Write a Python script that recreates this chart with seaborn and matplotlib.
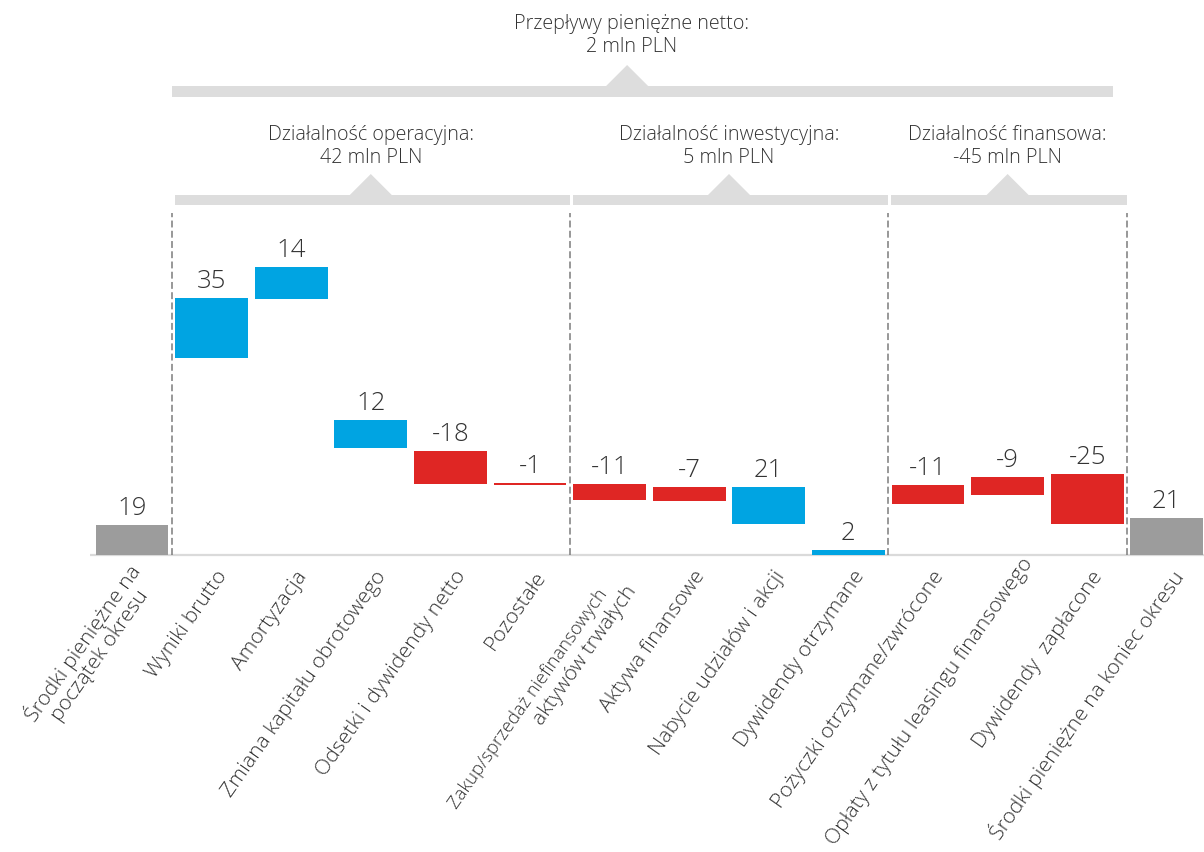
import os
import numpy as np
import pandas as pd
import matplotlib
matplotlib.use("Agg")
import matplotlib.pyplot as plt
import seaborn as sns
from matplotlib import font_manager as fm
from matplotlib.patches import Polygon, Rectangle

# ---------------- data ----------------
categories = [
    "Środki pieniężne na\npoczątek okresu",
    "Wyniki brutto",
    "Amortyzacja",
    "Zmiana kapitału obrotowego",
    "Odsetki i dywidendy netto",
    "Pozostałe",
    "Zakup/sprzedaż niefinansowych\naktywów trwałych",
    "Aktywa finansowe",
    "Nabycie udziałów i akcji",
    "Dywidendy otrzymane",
    "Pożyczki otrzymane/zwrócone",
    "Opłaty z tytułu leasingu finansowego",
    "Dywidendy  zapłacone",
    "Środki pieniężne na koniec okresu",
]
values = [19, 35, 14, 12, -18, -1, -11, -7, 21, 2, -11, -9, -25, 21]
kinds = ["total", "up", "up", "up", "down", "down", "down", "down",
         "up", "up", "down", "down", "down", "total"]
# floating bar extents as drawn in the chart (display level above baseline)
bar_bottom = [0, 197, 256, 107, 71, 70, 55, 54, 31, 0, 51, 60, 31, 0]
bar_top = [30, 257, 288, 135, 104, 72, 71, 68, 68, 5, 70, 78, 81, 37]

group_names = ["Działalność operacyjna:", "Działalność inwestycyjna:", "Działalność finansowa:"]
group_totals = ["42 mln PLN", "5 mln PLN", "-45 mln PLN"]
group_first = [1, 6, 10]
group_last = [5, 9, 12]
net_title = "Przepływy pieniężne netto:"
net_total = "2 mln PLN"

# ---------------- style ----------------
BLUE = "#00A4E2"
RED = "#DF2624"
GREY = "#9C9C9C"
BRACKET = "#DDDDDD"
TEXT = "#333333"
kind_colors = {"up": BLUE, "down": RED, "total": GREY}

sns.set_theme(style="white")
plt.rcParams["font.family"] = ["Open Sans", "DejaVu Sans"]


def find_font_file(patterns):
    for pat in patterns:
        for f in fm.fontManager.ttflist:
            base = os.path.basename(f.fname).lower()
            if base.startswith(pat) and "italic" not in base:
                return f.fname
    return None


LIGHT_FILE = find_font_file(["opensans-light.", "opensans-light", "lato-light."])


def fp(size):
    if LIGHT_FILE:
        return fm.FontProperties(fname=LIGHT_FILE, size=size)
    return fm.FontProperties(family=["Open Sans", "DejaVu Sans"], size=size)


W, H = 1204, 852
BASE_PX = 555          # baseline position from top (pixels)
STEP_PX = 79.6         # pixel distance between categories
X0_PX = 132            # pixel x of first category
ANG = 55.0
LAB_SIZE = 15.2

fig = plt.figure(figsize=(W / 100, H / 100), dpi=100)
ax = fig.add_axes([0, (H - BASE_PX) / H, 1, BASE_PX / H])

df = pd.DataFrame({"cat": categories, "bottom": bar_bottom, "top": bar_top})
df["height"] = df["top"] - df["bottom"]

sns.barplot(data=df, x="cat", y="height", order=categories, errorbar=None,
            width=0.915, color=BLUE, saturation=1, linewidth=0,
            bottom=df["bottom"].to_numpy(), ax=ax, zorder=3)
for patch, kind in zip(ax.patches, kinds):
    patch.set_facecolor(kind_colors[kind])
    patch.set_edgecolor("none")

ax.set_xlim(-X0_PX / STEP_PX, (W - X0_PX) / STEP_PX)
ax.set_ylim(0, BASE_PX)
ax.set_xticks([])
ax.set_yticks([])
ax.set_xlabel("")
ax.set_ylabel("")
sns.despine(ax=ax, left=True, bottom=True)
ax.patch.set_alpha(0)

# baseline
ax.plot([-0.53, (W - X0_PX) / STEP_PX], [0, 0], color="#DADADA", lw=1.6,
        zorder=1, clip_on=False, solid_capstyle="butt")

# separators
ax.vlines([0.5, 5.5, 9.5, 12.5], 0, 342, colors="#7C7C7C",
          linestyles=(0, (4.5, 2.2)), lw=1.1, zorder=2)

# value labels
for i, (v, t) in enumerate(zip(values, bar_top)):
    ax.text(i, t + 10, f"{v}", ha="center", va="baseline",
            fontproperties=fp(18.5), color=TEXT)

# category labels (rotated, right end anchored just under the bar)
c, s = np.cos(np.radians(ANG)), np.sin(np.radians(ANG))
AX_OFF, AY_OFF = 12, -18
labels = []
for i, lab in enumerate(categories):
    kw = dict(xy=(i, 0), textcoords="offset pixels", rotation=ANG,
              rotation_mode="anchor", color=TEXT, annotation_clip=False,
              ha="right", va="center")
    if "niefinansowych" in lab:
        l1, l2 = lab.split("\n")
        a1 = (AX_OFF - 4 * s - 25 * c, AY_OFF + 4 * c - 25 * s)
        a2 = (AX_OFF + 17.6 * s - 6 * c, AY_OFF - 17.6 * c - 6 * s)
        labels.append(ax.annotate(l1, xytext=a1, fontproperties=fp(LAB_SIZE * 0.87), **kw))
        labels.append(ax.annotate(l2, xytext=a2, fontproperties=fp(LAB_SIZE), **kw))
    else:
        labels.append(ax.annotate(lab, xytext=(AX_OFF, AY_OFF),
                                  multialignment="center", linespacing=1.0,
                                  fontproperties=fp(LAB_SIZE), **kw))

# keep labels inside the canvas: slide along their own direction if needed
fig.canvas.draw()
rend = fig.canvas.get_renderer()
for t in labels:
    bb = t.get_window_extent(rend)
    if bb.y0 < 3:
        d = (3 - bb.y0) / s
        x, y = t.xyann
        t.xyann = (x + d * c, y + d * s)


def bracket(x0, x1, xa, y0, y1, half_w, tri_h):
    ax.add_patch(Rectangle((x0, y0), x1 - x0, y1 - y0, facecolor=BRACKET,
                           edgecolor="none", zorder=2, clip_on=False))
    hw = half_w / STEP_PX
    ax.add_patch(Polygon([(xa - hw, y1), (xa + hw, y1), (xa, y1 + tri_h)],
                         closed=True, facecolor=BRACKET, edgecolor="none",
                         zorder=2, clip_on=False))


# group brackets
for name, total, a, b in zip(group_names, group_totals, group_first, group_last):
    x0, x1 = a - 0.46, b + 0.5
    xa = (a - 0.5 + b + 0.5) / 2
    bracket(x0, x1, xa, 350, 360, 21, 21)
    ax.text(xa, 408.5, f"{name}\n{total}", ha="center", va="center",
            fontproperties=fp(14.2), color=TEXT, linespacing=1.2)

# top bracket
bracket(0.5, 12.32, 6.22, 458, 469, 21, 21)
ax.text(6.28, 520, f"{net_title}\n{net_total}", ha="center", va="center",
        fontproperties=fp(14.2), color=TEXT, linespacing=1.2)

fig.savefig("out.png", dpi=100)
